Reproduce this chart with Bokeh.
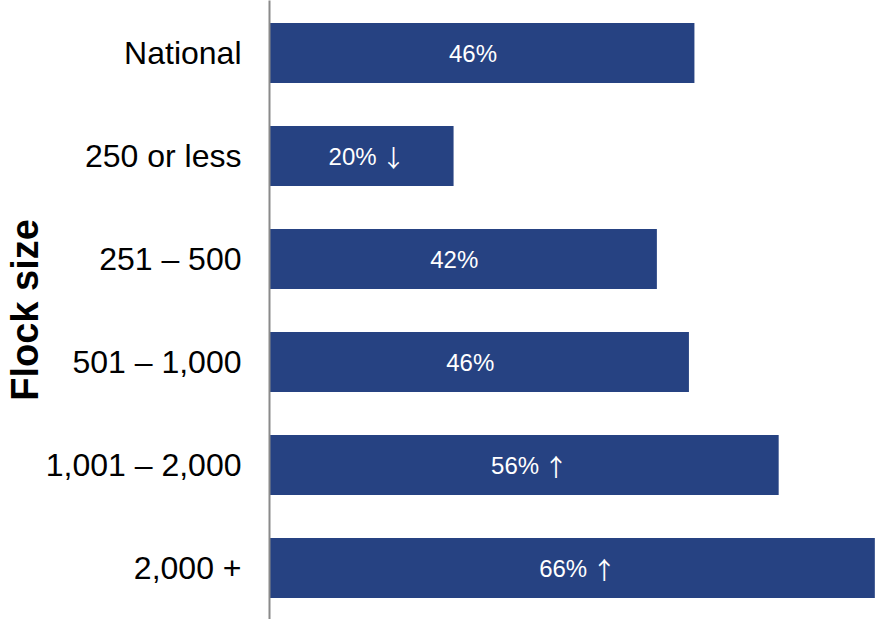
from bokeh.plotting import figure
from bokeh.models import ColumnDataSource, Range1d, FixedTicker
from bokeh.core.properties import value
from bokeh.embed import file_html
from bokeh.resources import INLINE

categories = ["National", "250 or less", "251 – 500", "501 – 1,000", "1,001 – 2,000", "2,000 +"]
values = [46.4, 20.1, 42.3, 45.8, 55.6, 66.1]
trends = ["", "↓", "", "", "↑", "↑"]
axis_title = "Flock size"

idx = list(range(len(categories)))
src = ColumnDataSource(dict(
    y=idx, v=values, half=[v / 2 for v in values],
    label=[f"{round(v)}%" for v in values], arrow=trends,
))

FONT = "Liberation Sans"
BAR = "#264282"

p = figure(width=878, height=619, output_backend="svg", toolbar_location=None,
           x_range=Range1d(0, 66.5), y_range=Range1d(5.5, -0.51),
           min_border_left=200, min_border_right=0, min_border_top=0, min_border_bottom=0)
p.outline_line_color = None
p.xgrid.visible = False
p.ygrid.visible = False
p.xaxis.visible = False

p.hbar(y="y", left=0, right="v", height=0.583, source=src, fill_color=BAR, line_color=None)
p.text(x="half", y="y", text="label", source=src, text_font=value(FONT), text_font_size="24px",
       text_color="white", text_align="left", text_baseline="middle", x_offset=-33)
p.text(x="half", y="y", text="arrow", source=src, text_font=value("Noto Sans CJK JP"),
       text_font_size="24px", text_color="white", text_align="left", text_baseline="middle",
       x_offset=20)

ya = p.yaxis[0]
ya.ticker = FixedTicker(ticks=idx)
ya.major_label_overrides = {i: c for i, c in zip(idx, categories)}
ya.major_tick_line_color = None
ya.minor_tick_line_color = None
ya.major_tick_out = 0
ya.major_tick_in = 0
ya.major_label_standoff = 28
ya.major_label_text_font = FONT
ya.major_label_text_font_size = "32px"
ya.major_label_text_color = "black"
ya.axis_line_color = "#8a8a8a"
ya.axis_line_width = 2
ya.axis_label = axis_title
ya.axis_label_text_font = FONT
ya.axis_label_text_font_style = "bold"
ya.axis_label_text_font_size = "38px"
ya.axis_label_text_color = "black"
ya.axis_label_standoff = -3

open("out.html", "w").write(file_html(p, INLINE))
